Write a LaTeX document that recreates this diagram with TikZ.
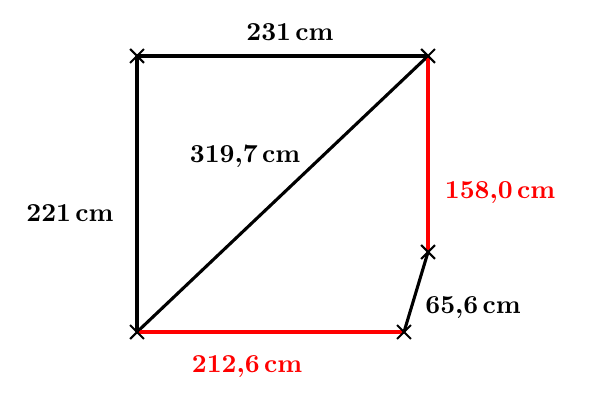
\documentclass[tikz,border=0pt]{standalone}
\usetikzlibrary{shapes.misc}
\tikzset{
    side/.style={line width=1.2pt},
    pt/.style={cross out,draw,line width=0.8pt,minimum size=0.16cm,inner sep=0pt},
    lbl/.style={font=\bfseries}
}
\begin{document}
\begin{tikzpicture}
    \useasboundingbox (0,0) rectangle (8,5.573);

    \coordinate (tl) at (1.858,4.814);
    \coordinate (tr) at (5.804,4.814);
    \coordinate (bl) at (1.858,1.071);
    \coordinate (br) at (5.478,1.071);
    \coordinate (rm) at (5.804,2.156);

    \draw[side] (tl) -- (tr);
    \draw[side] (tl) -- (bl);
    \draw[side] (bl) -- (tr);
    \draw[side] (br) -- (rm);
    \draw[side,red] (rm) -- (tr);
    \draw[side,red] (bl) -- (br);

    \foreach \p in {tl,tr,bl,br,rm}
        \node[pt] (x\p) at (\p) {};

    \node[lbl] (l1) at (3.932,5.14) {231\,cm};
    \node[lbl] (l2) at (3.322,3.458) {319,7\,cm};
    \node[lbl] (l3) at (0.949,2.685) {221\,cm};
    \node[lbl,red] (l4) at (6.78,2.956) {158,0\,cm};
    \node[lbl] (l5) at (6.414,1.397) {65,6\,cm};
    \node[lbl,red] (l6) at (3.349,0.597) {212,6\,cm};
\end{tikzpicture}
\end{document}
